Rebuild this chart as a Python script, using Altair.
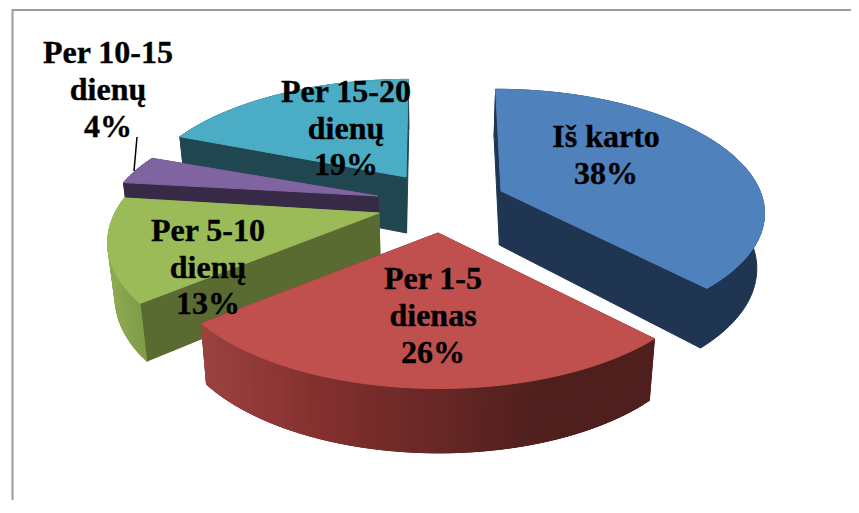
import math
import altair as alt
import pandas as pd

# --- values ---
categories = ["Iš karto", "Per 1-5 dienas", "Per 5-10 dienų", "Per 10-15 dienų", "Per 15-20 dienų"]
shares = [38, 26, 13, 4, 19]
label_lines = [["Iš karto", "38%"], ["Per 1-5", "dienas", "26%"], ["Per 5-10", "dienų", "13%"],
               ["Per 10-15", "dienų", "4%"], ["Per 15-20", "dienų", "19%"]]
top_colors = ["#4F81BD", "#C0504D", "#9BBB59", "#8064A2", "#4BACC6"]
face_colors = ["#1F3552", "#6B2A28", "#5A6B32", "#362A47", "#20464F"]
rim_stops = [["#1F3552", "#1F3552"],
             ["#9B4240", "#84302F", "#6A2826", "#4F1F1E", "#4F1F1E"],
             ["#8EAA52", "#7F9C49"],
             ["#362A47", "#362A47"],
             ["#20464F", "#20464F"]]

# --- layout of the drawing ---
apex = [(501, 191), (438, 233), (379, 213), (378, 196), (406, 177)]
rx = [259, 267, 264, 264, 263]
ry = [118, 123, 123, 110, 118]
persp = [0.16, 0.209, 0.209, 0.209, 0.209]
depth = [54, 56, 53, 56, 56]
x0 = 430
draw_order = [4, 3, 2, 0, 1]
label_pos = [(606, 147, 37), (433, 289, 37), (208, 241, 36.5), (108, 63, 37), (346, 102, 36.5)]

def hex2rgb(h):
    return [int(h[i:i + 2], 16) for i in (1, 3, 5)]

def ramp(stops, t):
    t = max(0, min(1, t)) * (len(stops) - 1)
    i = min(int(t), len(stops) - 2)
    f = t - i
    a, b = hex2rgb(stops[i]), hex2rgb(stops[i + 1])
    return "#%02x%02x%02x" % tuple(round(a[k] + (b[k] - a[k]) * f) for k in range(3))

def rim_point(i, theta):
    ax, ay = apex[i]
    s, c = math.sin(theta), math.cos(theta)
    w = 1 + persp[i] * c
    return (ax + rx[i] * s / w + (ax - x0) * 0.55 * (1 / w - 1), ay - ry[i] * c / w), c

def drop(i, pt, c):
    return (x0 + (pt[0] - x0) * 0.977, pt[1] + depth[i] / (1 + 0.13 * c))

rows = []
pid = 0
def add(points, color):
    global pid
    for k, (x, y) in enumerate(list(points) + [points[0]]):
        rows.append({"poly": pid, "ord": k, "x": x, "y": y, "color": color})
    pid += 1

total = sum(shares)
starts = [sum(shares[:i]) / total * 2 * math.pi for i in range(len(shares))]
for i in draw_order:
    a0 = starts[i]
    a1 = a0 + shares[i] / total * 2 * math.pi
    n = max(6, int(shares[i] * 2))
    thetas = [a0 + (a1 - a0) * j / n for j in range(n + 1)]
    arc = [rim_point(i, t) for t in thetas]
    ap = apex[i]
    ap_b = drop(i, ap, 0)
    # radial faces
    for (p, c) in (arc[0], arc[-1]):
        add([ap, p, drop(i, p, c), ap_b], face_colors[i])
    # outer rim, shaded along x
    xs = [p[0] for p, _ in arc]
    lo, hi = min(xs), max(xs)
    if len(set(rim_stops[i])) == 1:
        add([p for p, _ in arc] + [drop(i, p, c) for p, c in reversed(arc)], rim_stops[i][0])
    else:
        for j in range(n):
            seg = arc[j:min(j + 3, n + 1)]
            t = ((arc[j][0][0] + arc[j + 1][0][0]) / 2 - lo) / (hi - lo)
            add([p for p, _ in seg] + [drop(i, p, c) for p, c in reversed(seg)], ramp(rim_stops[i], t))
    # top surface
    add([ap] + [p for p, _ in arc], top_colors[i])

polys = pd.DataFrame(rows)

text_rows = []
for i, lines in enumerate(label_lines):
    lx, ly, gap = label_pos[i]
    for k, s in enumerate(lines):
        text_rows.append({"x": lx, "y": ly + k * gap, "t": s})
texts = pd.DataFrame(text_rows)

xs = alt.Scale(domain=[8, 851], nice=False, zero=False)
ys = alt.Scale(domain=[500, 8], nice=False, zero=False)
X = alt.X("x:Q", scale=xs, axis=None)
Y = alt.Y("y:Q", scale=ys, axis=None)

frame = alt.Chart(pd.DataFrame({"x": [12.5, 12.5, 851], "y": [500, 10, 10], "o": [0, 1, 2]})).mark_line(
    color="#9C9C9C", strokeWidth=2).encode(X, Y, order=alt.Order("o:Q"))

pie = alt.Chart(polys).mark_line(filled=True, strokeWidth=1, interpolate="linear").encode(
    X, Y,
    fill=alt.Fill("color:N", scale=None),
    stroke=alt.Stroke("color:N", scale=None),
    detail="poly:N",
    order=alt.Order("ord:Q"),
)

leader = alt.Chart(pd.DataFrame({"x": [137, 134], "y": [137, 171], "o": [0, 1]})).mark_line(
    color="#000000", strokeWidth=1.5).encode(X, Y, order=alt.Order("o:Q"))

labels = alt.Chart(texts).mark_text(
    font="Liberation Serif", fontWeight="bold", fontSize=32, color="#000000",
    stroke="#000000", strokeWidth=0.35,
    align="center", baseline="alphabetic").encode(X, Y, text="t:N")

chart = alt.layer(frame, pie, leader, labels).properties(
    width=843, height=492, padding=0, autosize=alt.AutoSizeParams(type="none"),
    background="#FFFFFF"
).configure_view(stroke=None)

chart.save("out.html", embed_options={"renderer": "svg", "actions": False})
